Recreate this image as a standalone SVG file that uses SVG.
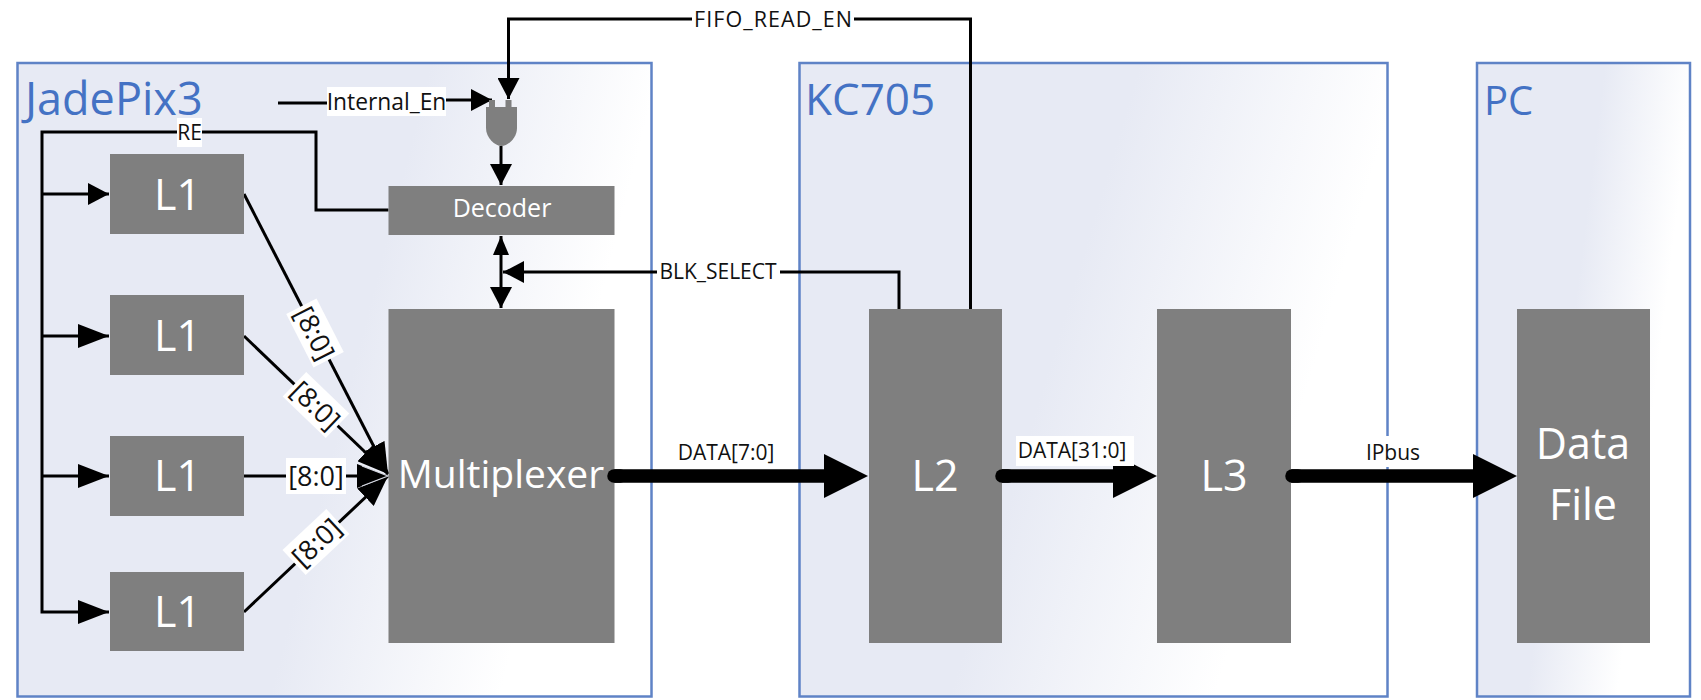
<svg xmlns="http://www.w3.org/2000/svg" width="1701" height="700" viewBox="0 0 1701 700">
<style>
text{font-family:"Open Sans","Noto Sans","Liberation Sans",sans-serif}
.box{stroke:#5F83C6;stroke-width:2.5}
.title{fill:#4472C4;font-size:44px}
.n{fill:#7F7F7F}
.w{fill:#fff;text-anchor:middle}
.big{font-size:43px}
.l{fill:#111;font-size:21px;text-anchor:middle}
.b{font-size:27px}
.bg{fill:#fff}
.c{fill:none;stroke:#000;stroke-width:3}
.t{fill:none;stroke:#000;stroke-width:13.500;stroke-linecap:round}
</style>
<defs>
<linearGradient id="g1" gradientUnits="userSpaceOnUse" x1="270" y1="696" x2="486" y2="751"><stop offset="0" stop-color="#E7EAF4"/><stop offset="1" stop-color="#fff"/></linearGradient>
<linearGradient id="g2" gradientUnits="userSpaceOnUse" x1="950" y1="696" x2="1193" y2="769"><stop offset="0" stop-color="#E7EAF4"/><stop offset="1" stop-color="#fff"/></linearGradient>
<linearGradient id="g3" gradientUnits="userSpaceOnUse" x1="1527" y1="696" x2="1616" y2="707"><stop offset="0" stop-color="#E7EAF4"/><stop offset="1" stop-color="#fff"/></linearGradient>
<marker id="a" markerUnits="userSpaceOnUse" markerWidth="22" markerHeight="22" refX="21" refY="11" orient="auto"><path d="M0 0L21 11L0 22Z"/></marker>
<marker id="al" markerUnits="userSpaceOnUse" markerWidth="32" markerHeight="24" refX="31" refY="12" orient="auto"><path d="M0 0L31 12L0 24Z"/></marker>
<marker id="am" markerUnits="userSpaceOnUse" markerWidth="32" markerHeight="24" refX="31" refY="12" orient="auto"><path d="M0 0L31 12L0 24Z"/><path d="M5 2L31 12L5 22" fill="none" stroke="#D5D8E2" stroke-width="1.200"/></marker>
<marker id="ad" markerUnits="userSpaceOnUse" markerWidth="20" markerHeight="18" refX="19" refY="8" orient="auto"><path d="M0 0L19 8L0 16Z"/></marker>
</defs>
<g id="jadepix3"><rect class="box" x="17.500" y="63" width="634" height="633.500" fill="url(#g1)"/><text class="title" x="25" y="115" style="font-size:45px">JadePix3</text></g>
<g id="kc705"><rect class="box" x="799.500" y="63" width="588" height="633.500" fill="url(#g2)"/><text class="title" x="805" y="115">KC705</text></g>
<g id="pc"><rect class="box" x="1477" y="63" width="213" height="633.500" fill="url(#g3)"/><text class="title" x="1484" y="115" style="font-size:40px">PC</text></g>

<g id="connectors">
<path class="c" d="M970.500 309V19H508.500V99" marker-end="url(#a)"/>
<path class="c" d="M278 103H390V100H492" marker-end="url(#a)"/>
<path class="c" d="M501 146V185" marker-end="url(#a)"/>
<path class="c" d="M388.500 210H316V132H42V612H109" marker-end="url(#al)"/>
<path class="c" d="M42 194H109" marker-end="url(#a)"/>
<path class="c" d="M42 336H109" marker-end="url(#al)"/>
<path class="c" d="M42 476H109" marker-end="url(#al)"/>
<path class="c" d="M501 272V236" marker-end="url(#ad)"/>
<path class="c" d="M501 272V308" marker-end="url(#a)"/>
<path class="c" d="M899 309V272H503" marker-end="url(#a)"/>
<path class="c" d="M244 194L388 474" marker-end="url(#al)"/>
<path class="c" d="M244 336L388 474" marker-end="url(#al)"/>
<path class="c" d="M244 612L388 476" marker-end="url(#al)"/>
<path class="c" d="M244 476H388" marker-end="url(#am)"/>
<path class="t" d="M614 476H830"/>
<path d="M824 454L868 476L824 498Z"/>
<path class="t" d="M1002 476H1120"/>
<path d="M1113 454L1157 476L1113 498Z"/>
<path class="t" d="M1292 476H1480"/>
<path d="M1473 454L1517 476L1473 498Z"/>
</g>

<g id="label-fifo"><rect class="bg" x="692" y="6" width="162" height="27"/><text class="l" x="773" y="27" textLength="158" lengthAdjust="spacing" style="font-size:21.500px">FIFO_READ_EN</text></g>
<g id="label-internal"><rect class="bg" x="327" y="87" width="119" height="29"/><text class="l" x="386.500" y="110" style="font-size:22.800px">Internal_En</text></g>
<g id="label-re"><rect class="bg" x="177" y="118" width="25" height="29"/><text class="l" x="189.500" y="140">RE</text></g>
<g id="label-blk"><rect class="bg" x="657" y="260" width="123" height="26"/><text class="l" x="718" y="279">BLK_SELECT</text></g>
<g id="label-b1" transform="translate(315 333) rotate(63)"><rect class="bg" x="-30" y="-17" width="60" height="34"/><text class="l b" y="10">[8:0]</text></g>
<g id="label-b2" transform="translate(316 405) rotate(44)"><rect class="bg" x="-30" y="-17" width="60" height="34"/><text class="l b" y="10">[8:0]</text></g>
<g id="label-b3" transform="translate(316 476)"><rect class="bg" x="-30" y="-18" width="60" height="36"/><text class="l b" y="10">[8:0]</text></g>
<g id="label-b4" transform="translate(316 542) rotate(-43)"><rect class="bg" x="-30" y="-17" width="60" height="34"/><text class="l b" y="10">[8:0]</text></g>
<g id="label-data8"><text class="l" x="726" y="460">DATA[7:0]</text></g>
<g id="label-data32"><rect class="bg" x="1016" y="436" width="118" height="30"/><text class="l" x="1072" y="458">DATA[31:0]</text></g>
<g id="label-ipbus"><rect class="bg" x="1360" y="436" width="65" height="31"/><text class="l" x="1393" y="460">IPbus</text></g>

<g id="and-gate"><rect class="n" x="489" y="100" width="6" height="8"/><rect class="n" x="505.500" y="100" width="6" height="8"/><path class="n" d="M486 107H517V128C517 138 508 146 501.500 146C495 146 486 138 486 128Z"/></g>
<g id="l1a"><rect class="n" x="110" y="154" width="134" height="80"/><text class="w big" x="177.500" y="210">L1</text></g>
<g id="l1b"><rect class="n" x="110" y="295" width="134" height="80"/><text class="w big" x="177.500" y="351">L1</text></g>
<g id="l1c"><rect class="n" x="110" y="436" width="134" height="80"/><text class="w big" x="177.500" y="491">L1</text></g>
<g id="l1d"><rect class="n" x="110" y="572" width="134" height="79"/><text class="w big" x="177.500" y="627">L1</text></g>
<g id="decoder"><rect class="n" x="388.500" y="186" width="226" height="49"/><text class="w" x="502" y="217" style="font-size:25px">Decoder</text></g>
<g id="multiplexer"><rect class="n" x="388.500" y="309" width="226" height="334"/><text class="w" x="501" y="488" style="font-size:39px">Multiplexer</text></g>
<g id="l2"><rect class="n" x="869" y="309" width="133" height="334"/><text class="w big" x="935" y="491">L2</text></g>
<g id="l3"><rect class="n" x="1157" y="309" width="134" height="334"/><text class="w big" x="1224" y="491">L3</text></g>
<g id="datafile"><rect class="n" x="1517" y="309" width="133" height="334"/><text class="w big" x="1583" y="459">Data</text><text class="w big" x="1583" y="520">File</text></g>
<g id="stubs"><path class="t" d="M614 476H620"/><path class="t" d="M1002 476H1008"/><path class="t" d="M1292 476H1298"/></g>
</svg>
